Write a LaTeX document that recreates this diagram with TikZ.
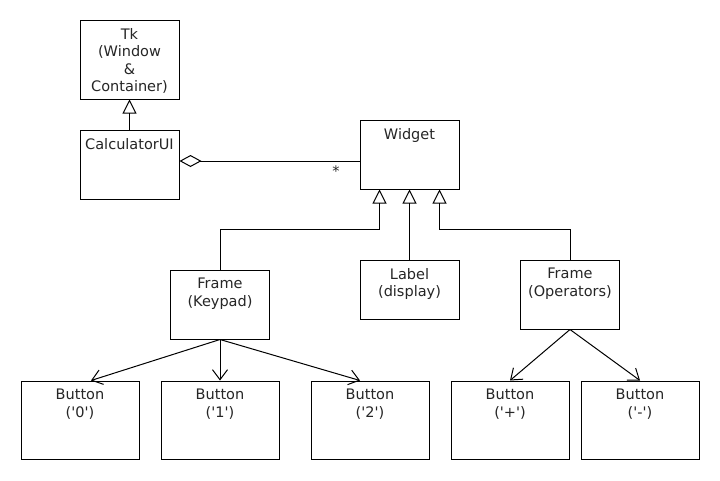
\documentclass[tikz,border=0pt]{standalone}
\usepackage{fontspec}
\setmainfont{DejaVu Sans}
\usetikzlibrary{arrows.meta}
\begin{document}
\begin{tikzpicture}[x=1pt,y=-1pt,line width=1pt,
  every node/.style={font=\fontsize{14.5}{17.5}\selectfont, text=black!85},
  box/.style={draw, text=black, inner sep=0pt, minimum width=99pt, minimum height=69pt},
  btn/.style={box, minimum width=118pt, minimum height=78pt},
  txt/.style={anchor=north, inner sep=0pt, align=center, yshift=-8pt},
  inh/.style={-{Triangle[open,length=14pt,width=14pt]}},
  agg/.style={{Diamond[open,length=22pt,width=12pt]}-},
  dep/.style={-{Straight Barb[length=10pt,width=15pt]}}]
\fill[white] (0,0) rectangle (720,480);
\useasboundingbox (0,0) rectangle (720,480);
% classes
\node[box, minimum height=79pt] (tk) at (129.5,59.5) {};
\node[txt] (tkT) at (tk.north) {Tk\\(Window\\\&\\Container)};
\node[box] (calc) at (129.5,164.5) {};
\node[txt] (calcT) at (calc.north) {CalculatorUI};
\node[box] (widget) at (409.5,154.5) {};
\node[txt] (widgetT) at (widget.north) {Widget};
\node[box] (kp) at (220,304.5) {};
\node[txt] (kpT) at (kp.north) {Frame\\(Keypad)};
\node[box, minimum height=59pt] (lbl) at (409.5,289.5) {};
\node[txt] (lblT) at (lbl.north) {Label\\(display)};
\node[box] (ops) at (570,294.5) {};
\node[txt] (opsT) at (ops.north) {Frame\\(Operators)};
% buttons
\node[btn] (b0) at (80,420) {};
\node[txt] (b0T) at (b0.north) {Button\\(\textquotesingle0\textquotesingle)};
\node[btn] (b1) at (220,420) {};
\node[txt] (b1T) at (b1.north) {Button\\(\textquotesingle1\textquotesingle)};
\node[btn] (b2) at (370,420) {};
\node[txt] (b2T) at (b2.north) {Button\\(\textquotesingle2\textquotesingle)};
\node[btn] (bp) at (510,420) {};
\node[txt] (bpT) at (bp.north) {Button\\(\textquotesingle+\textquotesingle)};
\node[btn] (bm) at (640,420) {};
\node[txt] (bmT) at (bm.north) {Button\\(\textquotesingle-\textquotesingle)};
% connectors
\draw[inh] (calc.north) -- (tk.south);
\coordinate (aggS) at ([yshift=3.5pt]calc.east);
\draw[agg] (aggS) -- (aggS -| widget.west);
\node (star) at (336,171) {*};
\coordinate (w1) at ([xshift=-30pt]widget.south);
\coordinate (w3) at ([xshift=30pt]widget.south);
\draw[inh] (kp.north) -- ++(0,-40) -| (w1);
\draw[inh] (lbl.north) -- (widget.south);
\draw[inh] (ops.north) -- ++(0,-30) -| (w3);
\draw[dep] (kp.south) -- ([xshift=11pt]b0.north);
\draw[dep] (kp.south) -- (b1.north);
\draw[dep] (kp.south) -- ([xshift=-10pt]b2.north);
\draw[dep] (ops.south) -- (bp.north);
\draw[dep] (ops.south) -- (bm.north);
\end{tikzpicture}
\end{document}
